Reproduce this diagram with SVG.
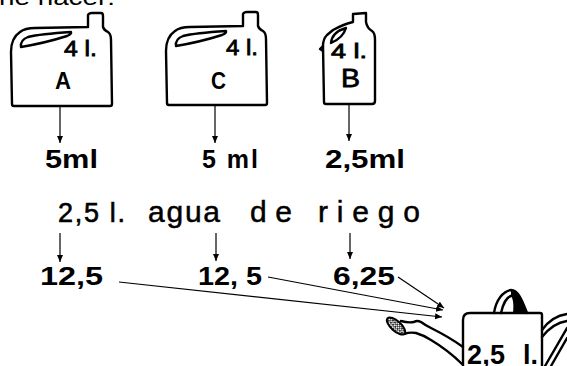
<svg xmlns="http://www.w3.org/2000/svg" width="567" height="366" viewBox="0 0 567 366">
  <defs>
    <style>
      .ink { fill: none; stroke: #000; stroke-width: 2.4; stroke-linejoin: round; stroke-linecap: round; }
      .thin { fill: none; stroke: #000; stroke-width: 1.2; }
      .lbl { font-family: "Liberation Sans", Arial, sans-serif; font-weight: bold; fill: #000; }
      .hand { font-family: "Liberation Sans", Arial, sans-serif; font-weight: normal; fill: #000; }
    </style>
    <marker id="head" markerUnits="userSpaceOnUse" markerWidth="8" markerHeight="8" refX="7" refY="3" orient="auto">
      <path d="M0,0 L7,3 L0,6 Z" fill="#000"/>
    </marker>
    <pattern id="hatch" width="3" height="3" patternUnits="userSpaceOnUse">
      <rect width="3" height="3" fill="#fff"/>
      <path d="M0,0 L3,3 M3,0 L0,3" stroke="#000" stroke-width="0.8"/>
    </pattern>
    <!-- wide jerrycan outline -->
    <path id="jug" d="M 12 104 L 11 52 Q 11 38 20 32 Q 25 28 35 28 L 88 27 L 88 15 Q 89 13 92 13 L 101 13 Q 103 13 103 16 L 103 27 Q 104 30 108 32 Q 111 34 111 40 L 112 104 Q 112 106 110 106 L 14 106 Q 12 106 12 104 Z"/>
    <path id="win" d="M 21 47 Q 20 40 28 37 Q 40 34 71 32 Q 72 34 67 36 Q 45 43 21 47 Z"/>
  </defs>

  <!-- heading, cropped at the top edge -->
  <text class="hand" x="-1" y="5" font-size="22" textLength="116" lengthAdjust="spacingAndGlyphs">ne hacer:</text>

  <g id="jug-a">
    <use href="#jug" class="ink"/>
    <use href="#win" class="ink"/>
    <text class="hand" x="64" y="56" font-size="22" textLength="33" lengthAdjust="spacingAndGlyphs" stroke="#000" stroke-width="0.8">4 l.</text>
    <text class="lbl" x="55" y="89" font-size="23" textLength="16" lengthAdjust="spacingAndGlyphs">A</text>
  </g>

  <g id="jug-c">
    <use href="#jug" class="ink" transform="translate(155,-1)"/>
    <use href="#win" class="ink" transform="translate(155,-1)"/>
    <text class="hand" x="226" y="55" font-size="22" textLength="32" lengthAdjust="spacingAndGlyphs" stroke="#000" stroke-width="0.8">4 l.</text>
    <text class="lbl" x="211" y="89" font-size="23" textLength="15" lengthAdjust="spacingAndGlyphs">C</text>
  </g>

  <g id="jug-b">
    <path class="ink" d="M 324 102 L 323 46 Q 323 39 327 35 L 333 30 Q 344 24 353 22 L 353 14 L 366 13 L 366 22 Q 367 28 372 31 Q 375 33 375 40 L 375 101 Q 375 104 372 104 L 326 104 Q 324 104 324 102 Z"/>
    <path class="ink" d="M 323 46 L 320 49 L 323 51"/>
    <path class="ink" d="M 331 43 Q 332 32 346 28 Q 343 38 331 43 Z"/>
    <text class="hand" x="331" y="58" font-size="20" textLength="36" lengthAdjust="spacingAndGlyphs" stroke="#000" stroke-width="0.8">4 l.</text>
    <text class="hand" x="341" y="87" font-size="26" textLength="19" lengthAdjust="spacingAndGlyphs" stroke="#000" stroke-width="0.8">B</text>
  </g>

  <g id="dose-a"><text class="lbl" x="45" y="168" font-size="25" textLength="53" lengthAdjust="spacingAndGlyphs">5ml</text></g>
  <g id="dose-c"><text class="lbl" x="202" y="168" font-size="25" textLength="56" lengthAdjust="spacing">5 ml</text></g>
  <g id="dose-b"><text class="lbl" x="325" y="168" font-size="25" textLength="80" lengthAdjust="spacingAndGlyphs">2,5ml</text></g>

  <g id="water">
    <text class="hand" x="58" y="222" font-size="27" textLength="67" lengthAdjust="spacing" stroke="#000" stroke-width="0.6">2,5 l.</text>
    <text class="hand" x="148" y="222" font-size="30" textLength="72" lengthAdjust="spacing" stroke="#000" stroke-width="0.5">agua</text>
    <text class="hand" x="250" y="222" font-size="30" textLength="42" lengthAdjust="spacing" stroke="#000" stroke-width="0.5">de</text>
    <text class="hand" x="318" y="222" font-size="30" textLength="102" lengthAdjust="spacing" stroke="#000" stroke-width="0.5">riego</text>
  </g>

  <g id="mix-a"><text class="lbl" x="40" y="285" font-size="26" textLength="63" lengthAdjust="spacingAndGlyphs">12,5</text></g>
  <g id="mix-c"><text class="lbl" x="198" y="285" font-size="26" textLength="64" lengthAdjust="spacingAndGlyphs">12, 5</text></g>
  <g id="mix-b"><text class="lbl" x="333" y="285" font-size="26" textLength="62" lengthAdjust="spacingAndGlyphs">6,25</text></g>

  <g id="watering-can">
    <!-- top handle -->
    <path class="ink" d="M 494 313 C 496 300 503 291 511 290 C 518 290 522 300 527 313"/>
    <path d="M 511 291 C 518 290 522 300 527 313 L 513 313 C 514 305 513 298 511 296 Z" fill="#000"/>
    <path class="ink" d="M 501 313 C 503 304 507 297 511 296"/>
    <!-- side handle -->
    <path class="ink" d="M 542 330 Q 552 316 567 314"/>
    <path class="ink" d="M 542 337 Q 553 323 567 321"/>
    <path class="ink" d="M 567 328 L 545 366"/>
    <path class="ink" d="M 567 338 L 551 366"/>
    <!-- body -->
    <path class="ink" d="M 463 368 L 463 320 Q 463 313 470 313 L 540 313 Q 542 313 542 315 L 542 368"/>
    <!-- spout -->
    <path class="ink" stroke-width="1.8" d="M 463 347 C 452 339 441 333 431 328 Q 425 325 421 322 Q 417 320 414 322 Q 408 323 401 321"/>
    <path class="ink" stroke-width="1.8" d="M 462 364 C 451 353 441 346 431 340 Q 423 335 416 333 Q 410 332 404 334"/>
    <ellipse cx="396" cy="326" rx="11.5" ry="5" transform="rotate(42 396 326)" fill="url(#hatch)" stroke="#000" stroke-width="2"/>
    <text class="lbl" x="467" y="364" font-size="27" textLength="38" lengthAdjust="spacing">2,5</text>
    <text class="lbl" x="523" y="364" font-size="27">l.</text>
  </g>

  <g id="connectors">
    <line class="thin" x1="60" y1="106" x2="60" y2="143" marker-end="url(#head)"/>
    <line class="thin" x1="215" y1="106" x2="215" y2="143" marker-end="url(#head)"/>
    <line class="thin" x1="349" y1="105" x2="349" y2="141" marker-end="url(#head)"/>
    <line class="thin" x1="60" y1="233" x2="60" y2="262" marker-end="url(#head)"/>
    <line class="thin" x1="216" y1="233" x2="216" y2="261" marker-end="url(#head)"/>
    <line class="thin" x1="350" y1="233" x2="350" y2="259" marker-end="url(#head)"/>
    <line class="thin" x1="119" y1="282" x2="442" y2="317" marker-end="url(#head)"/>
    <line class="thin" x1="268" y1="277" x2="443" y2="310" marker-end="url(#head)"/>
    <line class="thin" x1="398" y1="277" x2="444" y2="308" marker-end="url(#head)"/>
  </g>
</svg>
